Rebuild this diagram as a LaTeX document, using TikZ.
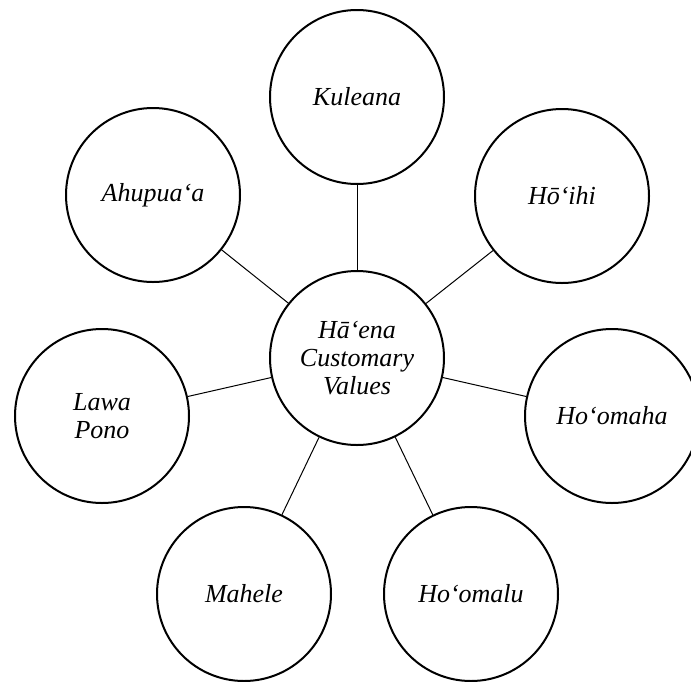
\documentclass[tikz,border=0pt]{standalone}
\usepackage{fontspec}
\setmainfont{Liberation Serif}
\begin{document}
\begin{tikzpicture}[x=1pt,y=-1pt,
  valnode/.style={circle,draw=black,line width=2pt,minimum size=174pt,inner sep=0pt,
    font=\fontsize{26}{28}\selectfont\itshape,align=center,fill=white},
  conn/.style={draw=black,line width=1pt}]
\useasboundingbox (0,0) rectangle (691,681);
\node[valnode] (c) at (357,358) {Hā‘ena\\Customary\\Values};
\node[valnode] (k) at (357,97) {Kuleana};
\node[valnode] (h) at (562,196) {Hō‘ihi};
\node[valnode] (m) at (612,416) {Ho‘omaha};
\node[valnode] (ml) at (471,594) {Ho‘omalu};
\node[valnode] (mh) at (244,594) {Mahele};
\node[valnode] (l) at (102,416) {Lawa\\Pono};
\node[valnode] (a) at (153,195) {Ahupua‘a};
\begin{scope}[on background layer/.style={}]
\end{scope}
\foreach \n in {k,h,m,ml,mh,l,a}{
  \draw[conn] (c) -- (\n);
}
\end{tikzpicture}
\end{document}
